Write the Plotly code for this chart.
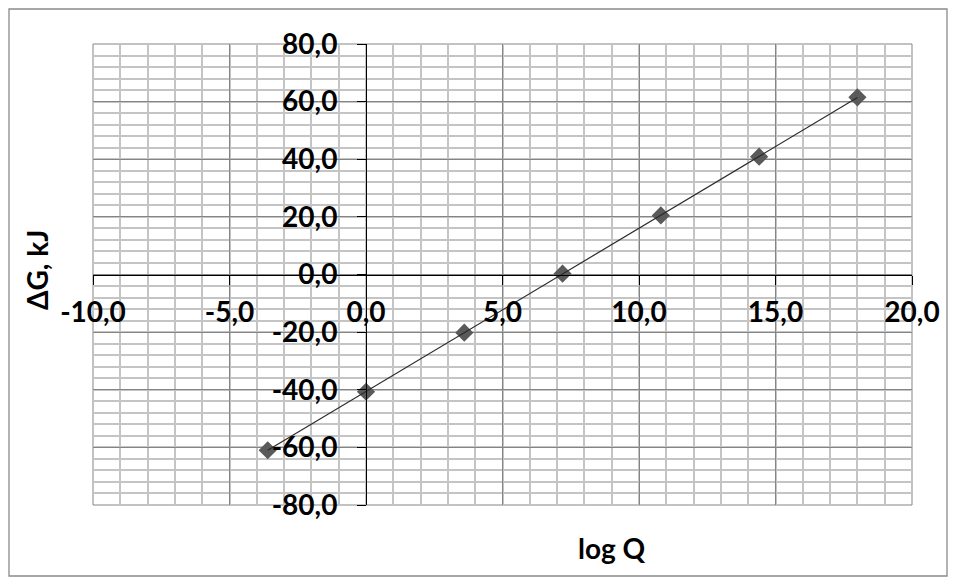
import numpy as np
import plotly.graph_objects as go

# Data
log_q = [-3.6, 0.0, 3.6, 7.2, 10.8, 14.4, 18.0]
delta_g = [-61.0, -40.7, -20.2, 0.3, 20.5, 40.9, 61.5]

x_title = "log Q"
y_title = "ΔG, kJ"
x_range = [-10, 20]
y_range = [-80, 80]
x_tickvals = [-10, -5, 0, 5, 10, 15, 20]
x_ticktext = ["-10,0", "-5,0", "0,0", "5,0", "10,0", "15,0", "20,0"]
y_tickvals = [-80, -60, -40, -20, 0, 20, 40, 60, 80]
y_ticktext = ["-80,0", "-60,0", "-40,0", "-20,0", "0,0", "20,0", "40,0", "60,0", "80,0"]

# page body has an 8px default margin; figure is sized to fill the rest
OFF = 8
W, H = 956 - OFF, 584 - OFF
ML, MR, MT, MB = 93 - OFF, 44, 44 - OFF, 79
pw, ph = W - ML - MR, H - MT - MB

FONT = "Lato, 'Open Sans', sans-serif"
TICKFONT = dict(family=FONT, size=28, color="black", weight="bold")

# linear trendline (least squares) from the data
slope, intercept = np.polyfit(log_q, delta_g, 1)
tx = np.array([min(log_q), max(log_q)])
ty = slope * tx + intercept

fig = go.Figure()
fig.add_trace(go.Scatter(
    x=log_q, y=delta_g, mode="markers",
    marker=dict(symbol="diamond", size=14, color="#5a5a5a", line=dict(width=0)),
    showlegend=False, hoverinfo="x+y",
))
fig.add_trace(go.Scatter(
    x=tx, y=ty, mode="lines",
    line=dict(color="#2a2a2a", width=1.2),
    showlegend=False, hoverinfo="skip",
))

x0_frac = (0 - y_range[0]) / (y_range[1] - y_range[0])
y0_frac = (0 - x_range[0]) / (x_range[1] - x_range[0])

fig.update_layout(
    width=W, height=H,
    margin=dict(l=ML, r=MR, t=MT, b=MB, pad=0),
    paper_bgcolor="white", plot_bgcolor="white",
    font=dict(family=FONT, color="black"),
    xaxis=dict(
        range=x_range, tickmode="array", tickvals=x_tickvals, ticktext=x_ticktext,
        anchor="free", position=x0_frac,
        showline=True, linecolor="black", linewidth=1,
        ticks="outside", ticklen=9, tickcolor="black", tickwidth=1,
        ticklabelstandoff=4,
        tickfont=TICKFONT,
        showgrid=True, gridcolor="#858585", gridwidth=1,
        minor=dict(dtick=1, showgrid=True, gridcolor="#c4c4c4", gridwidth=1.5, ticks=""),
        zeroline=False,
    ),
    yaxis=dict(
        range=y_range, tickmode="array", tickvals=y_tickvals, ticktext=y_ticktext,
        anchor="free", position=y0_frac,
        showline=True, linecolor="black", linewidth=1,
        ticks="outside", ticklen=9, tickcolor="black", tickwidth=1,
        ticklabelstandoff=14,
        tickfont=TICKFONT,
        showgrid=True, gridcolor="#858585", gridwidth=1,
        minor=dict(dtick=4, showgrid=True, gridcolor="#c4c4c4", gridwidth=1.5, ticks=""),
        zeroline=False,
    ),
    shapes=[
        dict(type="rect", xref="paper", yref="paper", x0=0, x1=1, y0=0, y1=1,
             line=dict(color="#858585", width=1), layer="below"),
        dict(type="rect", xref="paper", yref="paper",
             x0=(9 - OFF - ML) / pw, x1=(947 - OFF - ML) / pw,
             y0=(H - MB - (576 - OFF)) / ph, y1=(H - MB - (9 - OFF)) / ph,
             line=dict(color="#8a8a8a", width=1.3), layer="below"),
    ],
    annotations=[
        dict(text=x_title, xref="paper", yref="paper",
             x=(612 - OFF - ML) / pw, y=(H - MB - (548 - OFF)) / ph,
             xanchor="center", yanchor="middle", showarrow=False,
             font=TICKFONT),
        dict(text=y_title, xref="paper", yref="paper",
             x=(37 - OFF - ML) / pw, y=(H - MB - (270 - OFF)) / ph, textangle=-90,
             xanchor="center", yanchor="middle", showarrow=False,
             font=TICKFONT),
    ],
)

fig.write_html("out.html")
